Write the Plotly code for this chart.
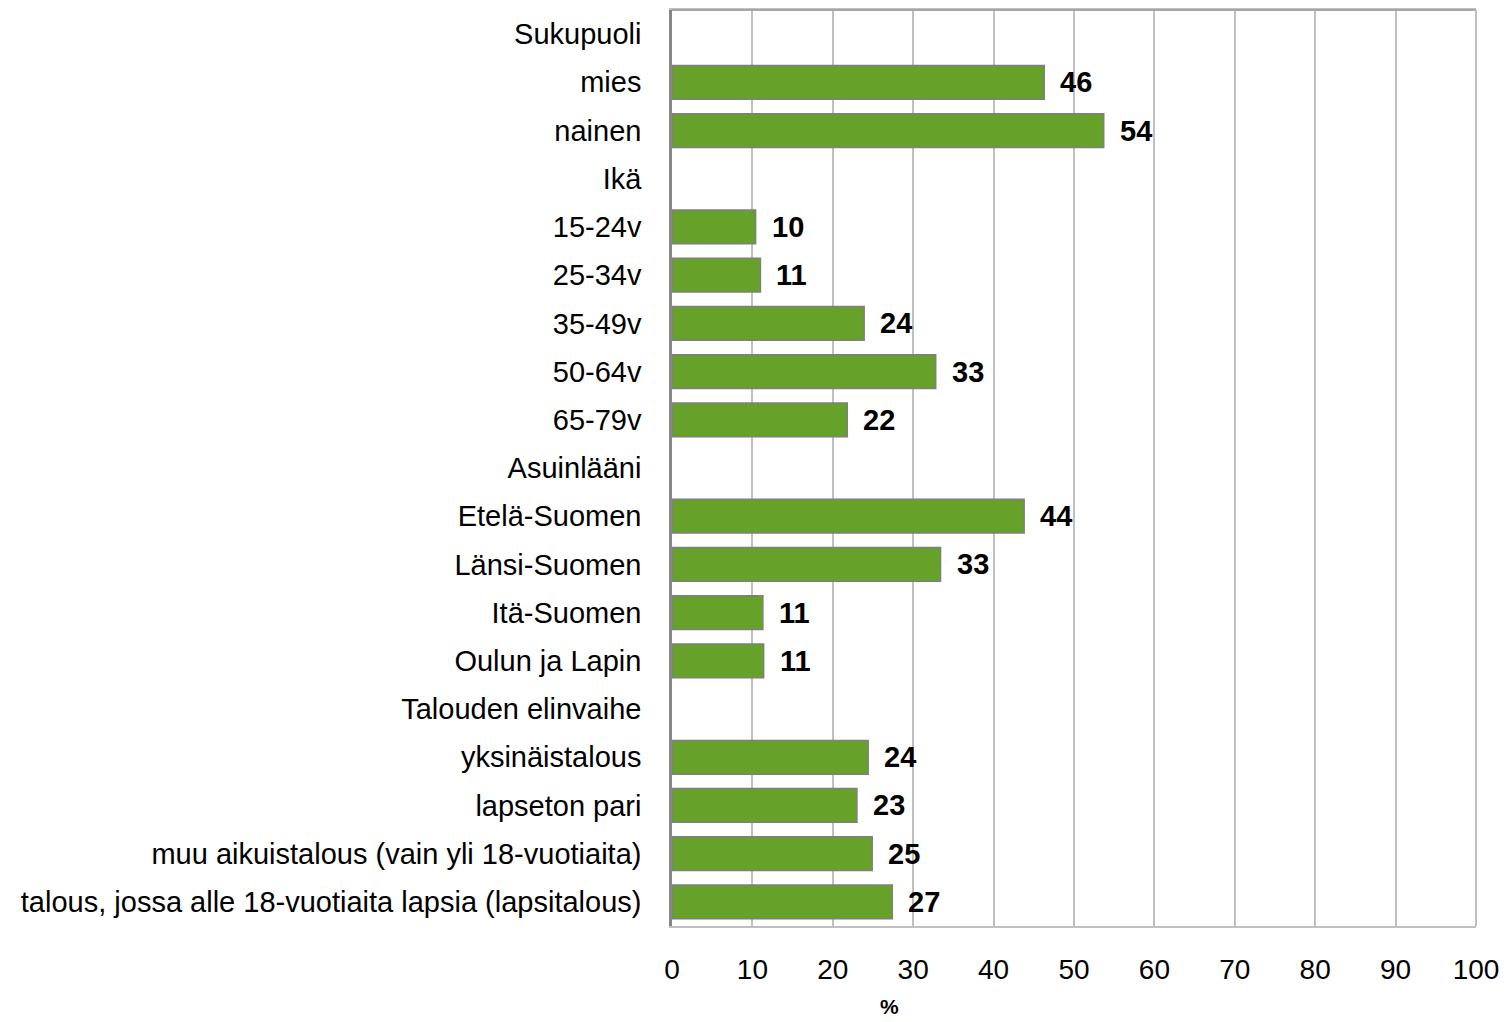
import plotly.graph_objects as go

# Category rows, top to bottom (group headers have no bar)
categories = [
    "Sukupuoli", "mies", "nainen",
    "Ikä", "15-24v", "25-34v", "35-49v", "50-64v", "65-79v",
    "Asuinlääni", "Etelä-Suomen", "Länsi-Suomen", "Itä-Suomen", "Oulun ja Lapin",
    "Talouden elinvaihe", "yksinäistalous", "lapseton pari",
    "muu aikuistalous (vain yli 18-vuotiaita)",
    "talous, jossa alle 18-vuotiaita lapsia (lapsitalous)",
]
shares = [
    None, 46.3, 53.7,
    None, 10.4, 11.0, 23.9, 32.8, 21.8,
    None, 43.8, 33.4, 11.3, 11.4,
    None, 24.4, 23.0, 24.9, 27.4,
]
x_ticks = [0, 10, 20, 30, 40, 50, 60, 70, 80, 90, 100]

FONT = "Liberation Sans, Arial, sans-serif"

fig = go.Figure()
fig.add_trace(go.Bar(
    x=shares,
    y=categories,
    orientation="h",
    marker=dict(color="#66a12a", line=dict(color="#7f7f7f", width=1.5)),
    width=0.7,
    hoverinfo="skip",
))

# Bold value labels to the right of each bar
for cat, val in zip(categories, shares):
    if val is None:
        continue
    fig.add_annotation(
        x=val, y=cat, text=f"<b>{val:.0f}</b>",
        showarrow=False, xanchor="left", yanchor="middle",
        xshift=14, font=dict(family=FONT, size=29, color="#000000"),
    )

# Axis title
fig.add_annotation(
    x=0.271, y=-0.0875, xref="paper", yref="paper",
    text="<b>%</b>", showarrow=False, xanchor="center", yanchor="middle",
    font=dict(family=FONT, size=21, color="#000000"),
)

fig.update_layout(
    width=1510, height=1022,
    margin=dict(l=672, r=34, t=8, b=96),
    paper_bgcolor="white", plot_bgcolor="white",
    showlegend=False,
    font=dict(family=FONT, size=29, color="#000000"),
    xaxis=dict(
        range=[0, 100], tickvals=x_ticks, ticktext=[str(t) for t in x_ticks],
        showgrid=True, gridcolor="#c0c0c0", gridwidth=1.5,
        zeroline=False, showline=True, linecolor="#c0c0c0", linewidth=2,
        mirror=True, ticks="", ticklabelstandoff=17,
        tickfont=dict(family=FONT, size=28),
    ),
    yaxis=dict(
        autorange="reversed", showgrid=False, zeroline=False,
        showline=True, linecolor="#868686", linewidth=2.5, mirror=False,
        ticks="", ticklabelstandoff=22,
        tickfont=dict(family=FONT, size=29),
    ),
)

# Light frame along the top and right edges of the plot area
fig.add_shape(type="line", xref="paper", yref="paper", x0=0, x1=1, y0=1, y1=1,
              line=dict(color="#a6a6a6", width=2))
fig.add_shape(type="line", xref="paper", yref="paper", x0=1, x1=1, y0=0, y1=1,
              line=dict(color="#c0c0c0", width=2))

fig.write_html("out.html")
